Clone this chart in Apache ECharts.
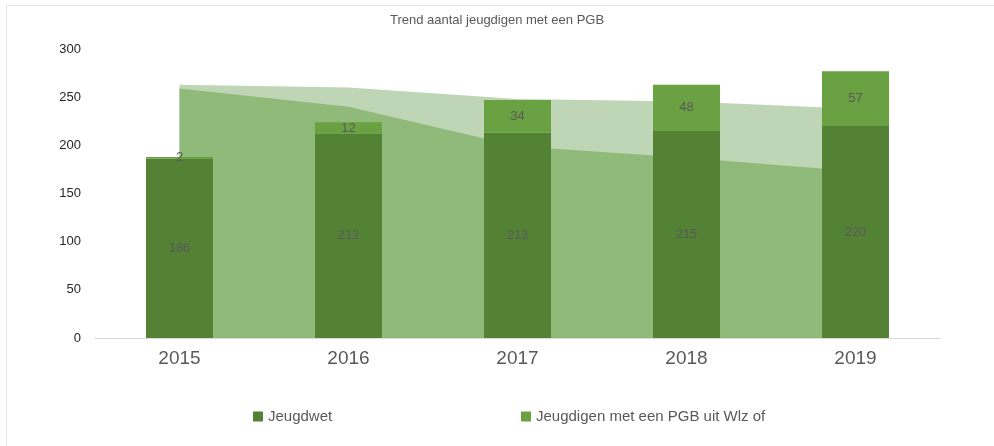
<!DOCTYPE html>
<html>
<head>
<meta charset="utf-8">
<script src="https://cdn.jsdelivr.net/npm/echarts@6/dist/echarts.min.js"></script>
<style>
  html, body { margin: 0; padding: 0; background: #fff; }
  #frame { position: absolute; left: 6px; top: 5px; width: 1100px; height: 600px; border: 1px solid #e6e6e6; }
  #main { position: absolute; left: 0; top: 0; width: 994px; height: 446px; }
</style>
</head>
<body>
<div id="frame"></div>
<div id="main"></div>
<script>
// jaren
var jaren = ["2015", "2016", "2017", "2018", "2019"];
// gestapelde staven
var jeugdwet = [186, 212, 213, 215, 220];
var pgbWlz = [2, 12, 34, 48, 57];
var vlakBoven = [263, 260, 248, 245.5, 238];
var vlakOnder = [259, 240, 199, 187, 173];
var yTicks = [0, 50, 100, 150, 200, 250, 300];

var myChart = echarts.init(document.getElementById("main"));
var labelStyle = {
  show: true,
  position: "inside",
  color: "#595959",
  fontSize: 13,
  fontFamily: "Liberation Sans"
};
var option = {
  animation: false,
  textStyle: { fontFamily: "Liberation Sans" },
  title: {
    text: "Trend aantal jeugdigen met een PGB",
    left: "center",
    top: 9,
    textStyle: { fontSize: 13, fontWeight: "normal", color: "#595959" }
  },
  grid: { left: 95, right: 54, top: 49, bottom: 108 },
  legend: [
    {
      left: 248, top: 404,
      itemWidth: 10, itemHeight: 10,
      icon: "rect",
      data: ["Jeugdwet"],
      textStyle: { fontSize: 15, color: "#595959" }
    },
    {
      left: 516, top: 404,
      itemWidth: 10, itemHeight: 10,
      icon: "rect",
      data: ["Jeugdigen met een PGB uit Wlz of Wmo"],
      formatter: function () { return "Jeugdigen met een PGB uit Wlz of"; },
      textStyle: { fontSize: 15, color: "#595959" }
    }
  ],
  xAxis: {
    type: "category",
    data: jaren,
    axisLine: { lineStyle: { color: "#d9d9d9" } },
    axisTick: { show: false },
    axisLabel: { fontSize: 19, color: "#595959", margin: 11 }
  },
  yAxis: {
    type: "value",
    min: yTicks[0],
    max: yTicks[yTicks.length - 1],
    interval: 50,
    axisLine: { show: false },
    axisTick: { show: false },
    splitLine: { show: false },
    axisLabel: { fontSize: 13, color: "#262626", margin: 14 }
  },
  series: [
    {
      name: "vlakBoven",
      type: "line",
      data: vlakBoven,
      symbol: "none",
      lineStyle: { width: 0 },
      areaStyle: { color: "#bed5b6", opacity: 1 },
      z: 1
    },
    {
      name: "vlakOnder",
      type: "line",
      data: vlakOnder,
      symbol: "none",
      lineStyle: { width: 0 },
      areaStyle: { color: "#90ba79", opacity: 1 },
      z: 1
    },
    {
      name: "Jeugdwet",
      type: "bar",
      stack: "totaal",
      barWidth: 67,
      data: jeugdwet,
      itemStyle: { color: "#548235" },
      label: labelStyle,
      z: 3
    },
    {
      name: "Jeugdigen met een PGB uit Wlz of Wmo",
      type: "bar",
      stack: "totaal",
      barWidth: 67,
      data: pgbWlz,
      itemStyle: { color: "#6aa142" },
      label: labelStyle,
      z: 3
    }
  ]
};
myChart.setOption(option);
</script>
</body>
</html>
